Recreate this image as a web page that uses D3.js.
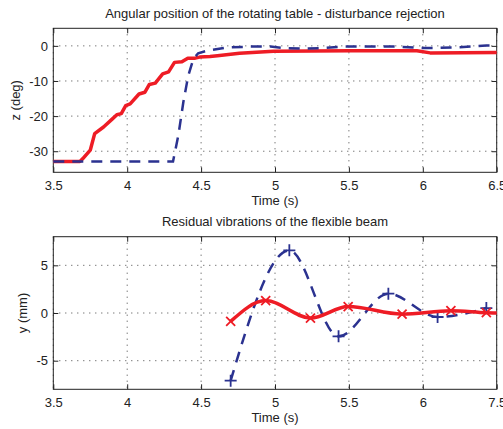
<!DOCTYPE html>
<html>
<head>
<meta charset="utf-8">
<script src="https://cdn.jsdelivr.net/npm/d3@7"></script>
<style>
  body { margin: 0; background: #fff; }
  text { font-family: "Liberation Sans", Arial, sans-serif; font-size: 13px; fill: #222; }
</style>
</head>
<body>
<script>
// x ticks shared by both panels (the lower panel's last label reads 7.5 in the original)
var xTicks = [3.5, 4, 4.5, 5, 5.5, 6, 6.5]
var topXLabels = ["3.5", "4", "4.5", "5", "5.5", "6", "6.5"]
var botXLabels = ["3.5", "4", "4.5", "5", "5.5", "6", "7.5"]

// top panel: angular position z (deg)
var redTopT = [3.5, 3.68, 3.70, 3.75, 3.78, 3.84, 3.90, 3.93, 3.96, 3.99, 4.02, 4.08, 4.12, 4.15, 4.19, 4.24, 4.28, 4.32, 4.37, 4.41, 4.46, 4.49, 4.56, 4.61, 4.76, 4.99, 5.51, 5.96, 6.05, 6.5]
var redTopY = [-32.9, -32.9, -32.1, -29.7, -25.0, -23.1, -20.8, -19.6, -19.3, -17.0, -16.5, -13.7, -13.2, -11.0, -10.6, -8.0, -7.4, -4.7, -4.5, -3.5, -3.5, -3.2, -3.0, -2.8, -2.1, -1.5, -1.4, -1.4, -2.0, -1.9]
var blueTopT = [3.5, 4.31, 4.346, 4.38, 4.413, 4.447, 4.48, 4.54, 4.67, 4.83, 4.97, 5.06, 5.19, 5.33, 5.46, 5.6, 5.82, 6.0, 6.1, 6.25, 6.43, 6.5]
var blueTopY = [-32.9, -32.9, -25.5, -16, -8.5, -3.8, -2.1, -1.4, -0.5, -0.2, -0.2, -0.6, -0.8, -0.6, -0.2, -0.2, -0.2, -0.6, -0.6, -0.4, 0.1, 0.1]
var topYTicks = [-30, -20, -10, 0]

// bottom panel: residual vibrations y (mm)
var redBotT = [4.70, 4.937, 5.24, 5.495, 5.86, 6.19, 6.43, 6.5]
var redBotY = [-0.88, 1.3, -0.53, 0.68, -0.12, 0.24, 0.03, 0.0]
var redBotMarks = 7   // the first 7 points carry an x marker
var blueBotT = [4.70, 5.097, 5.43, 5.767, 6.10, 6.43]
var blueBotY = [-7.1, 6.57, -2.45, 2.03, -0.42, 0.52]
var botYTicks = [-5, 0, 5]

var red = "#ee1c25", blue = "#2b3290"
var left = 53.3, right = 496.7

var svg = d3.select("body").append("svg")
	.attr("width", 503)
	.attr("height", 429)

var x = d3.scaleLinear().domain([3.5, 6.5]).range([left, right])

function zip(t, v) { return t.map((d, i) => ({t: d, v: v[i]})) }

// plain hyphen for negatives, like the original
var yFmt = d => String(d)

function panel(top, bottom, yDomain, yTicks, xLabels, title, ylabel, ylabelX) {
	var y = d3.scaleLinear().domain(yDomain).range([bottom, top])
	var g = svg.append("g")

	// dotted grid
	g.selectAll("line.gx").data(xTicks).enter().append("line")
		.attr("x1", d => x(d)).attr("x2", d => x(d))
		.attr("y1", top).attr("y2", bottom)
		.attr("stroke", "#444").attr("stroke-dasharray", "1,5")
	g.selectAll("line.gy").data(yTicks).enter().append("line")
		.attr("y1", d => y(d)).attr("y2", d => y(d))
		.attr("x1", left).attr("x2", right)
		.attr("stroke", "#444").attr("stroke-dasharray", "1,5")

	// axes, ticks pointing inwards on all four sides
	g.append("g").attr("transform", "translate(0," + bottom + ")")
		.call(d3.axisBottom(x).tickValues(xTicks).tickSizeInner(-5).tickSizeOuter(0).tickPadding(8.5)
			.tickFormat((d, i) => xLabels[i]))
	g.append("g").attr("transform", "translate(0," + top + ")")
		.call(d3.axisTop(x).tickValues(xTicks).tickSizeInner(-5).tickSizeOuter(0).tickFormat(""))
	g.append("g").attr("transform", "translate(" + left + ",0)")
		.call(d3.axisLeft(y).tickValues(yTicks).tickSizeInner(-5).tickSizeOuter(0).tickPadding(5.3)
			.tickFormat(yFmt))
	g.append("g").attr("transform", "translate(" + right + ",0)")
		.call(d3.axisRight(y).tickValues(yTicks).tickSizeInner(-5).tickSizeOuter(0).tickFormat(""))
	g.selectAll(".domain").remove()
	g.selectAll(".tick line").attr("stroke", "#222")
	g.selectAll(".tick text").attr("fill", "#222").style("font-size", "13px")
		.style("font-family", "'Liberation Sans', Arial, sans-serif")

	g.append("rect")
		.attr("x", left).attr("y", top)
		.attr("width", right - left).attr("height", bottom - top)
		.attr("fill", "none").attr("stroke", "#222").attr("stroke-width", 1)

	g.append("text").attr("x", (left + right) / 2).attr("y", top - 10.5)
		.attr("text-anchor", "middle").text(title)
	g.append("text").attr("x", (left + right) / 2).attr("y", bottom + 33)
		.attr("text-anchor", "middle").text("Time (s)")
	g.append("text")
		.attr("transform", "translate(" + ylabelX + "," + (top + bottom) / 2 + ") rotate(-90)")
		.attr("text-anchor", "middle").text(ylabel)

	return {g: g, y: y}
}

// ---- top panel
var p1 = panel(28.3, 172.3, [-36, 5], topYTicks, topXLabels,
	"Angular position of the rotating table - disturbance rejection", "z (deg)", 19.5)
var line1 = d3.line().x(d => x(d.t)).y(d => p1.y(d.v))
p1.g.append("path").datum(zip(redTopT, redTopY))
	.attr("d", line1).attr("fill", "none").attr("stroke", red)
	.attr("stroke-width", 3.5).attr("stroke-linejoin", "round")
p1.g.append("path").datum(zip(blueTopT, blueTopY))
	.attr("d", line1).attr("fill", "none").attr("stroke", blue)
	.attr("stroke-width", 2.5).attr("stroke-dasharray", "11,8")

// ---- bottom panel
var p2 = panel(236.7, 389.3, [-8, 8], botYTicks, botXLabels,
	"Residual vibrations of the flexible beam", "y (mm)", 27)
var line2 = d3.line().x(d => x(d.t)).y(d => p2.y(d.v)).curve(d3.curveMonotoneX)

var bluePts = zip(blueBotT, blueBotY)
p2.g.append("path").datum(bluePts)
	.attr("d", line2).attr("fill", "none").attr("stroke", blue)
	.attr("stroke-width", 2.5).attr("stroke-dasharray", "11,8")
p2.g.selectAll("path.plus").data(bluePts).enter().append("path")
	.attr("class", "plus")
	.attr("transform", d => "translate(" + x(d.t) + "," + p2.y(d.v) + ")")
	.attr("d", "M-6,0H6M0,-6V6")
	.attr("stroke", blue).attr("stroke-width", 1.8)

var redPts = zip(redBotT, redBotY)
p2.g.append("path").datum(redPts)
	.attr("d", line2).attr("fill", "none").attr("stroke", red)
	.attr("stroke-width", 3.5)
p2.g.selectAll("path.cross").data(redPts.slice(0, redBotMarks)).enter().append("path")
	.attr("class", "cross")
	.attr("transform", d => "translate(" + x(d.t) + "," + p2.y(d.v) + ")")
	.attr("d", "M-4.5,-4.5L4.5,4.5M-4.5,4.5L4.5,-4.5")
	.attr("stroke", red).attr("stroke-width", 1.8)
</script>
</body>
</html>
